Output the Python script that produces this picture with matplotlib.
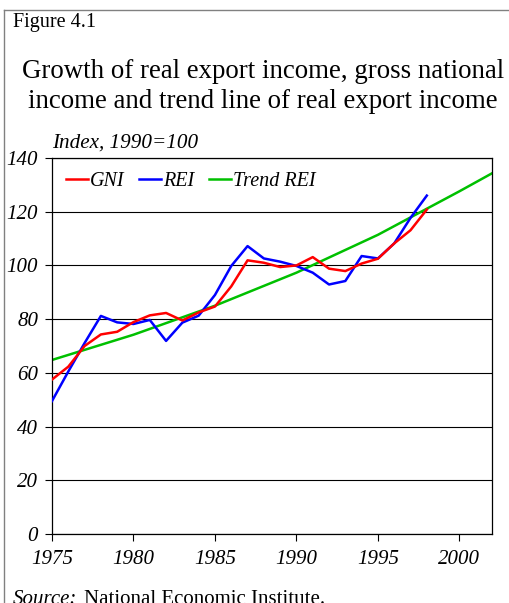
import matplotlib
matplotlib.use("Agg")
import matplotlib.pyplot as plt
from matplotlib.lines import Line2D

# data
years = list(range(1975, 1999))
gni = [57.5, 62.3, 70.0, 74.3, 75.3, 78.9, 81.4, 82.3, 79.5, 82.5, 84.7, 92.2,
       101.9, 101.0, 99.4, 100.0, 103.1, 98.8, 97.9, 100.7, 102.5, 108.2, 113.1, 120.8]
rei = [49.5, 60.5, 71.1, 81.2, 78.8, 78.2, 79.7, 71.9, 78.7, 81.3, 89.0, 99.8,
       107.2, 102.6, 101.4, 99.8, 97.3, 92.9, 94.2, 103.5, 102.6, 108.2, 117.7, 126.0]
trend_years = [1975, 1980, 1985, 1990, 1995, 2000, 2002]
trend_rei = [64.8, 74.2, 85.0, 97.3, 111.4, 127.6, 134.3]
xticks = [1975, 1980, 1985, 1990, 1995, 2000]
yticks = [0, 20, 40, 60, 80, 100, 120, 140]

plt.rcParams['font.family'] = ['Liberation Serif', 'DejaVu Serif']

fig = plt.figure(figsize=(5.09, 6.03), dpi=100)
W, H = 509, 603
ax = fig.add_axes([52 / W, 1 - 534 / H, (492 - 52) / W, (534 - 158) / H])

ax.plot(years, gni, color='#ff0000', lw=1.8, label='GNI', zorder=4)
ax.plot(years, rei, color='#0000ff', lw=1.8, label='REI', zorder=3)
ax.plot(trend_years, trend_rei, color='#00c000', lw=1.8, label='Trend REI', zorder=2)

ax.set_xlim(1975, 2002)
ax.set_ylim(0, 140)
ax.set_xticks(xticks)
ax.set_yticks(yticks)
ax.set_xticklabels([str(v) for v in xticks], fontsize=15, style='italic')
ax.set_yticklabels([str(v) for v in yticks], fontsize=15, style='italic')
ax.tick_params(direction='out', length=5, width=0.8, color='black')
ax.tick_params(axis='y', pad=5)
ax.tick_params(axis='x', pad=6.5)
ax.grid(axis='y', color='black', lw=0.8)
ax.set_axisbelow(True)
for s in ax.spines.values():
    s.set_linewidth(0.9)

leg = ax.legend(loc='upper left', ncol=3, frameon=False,
                prop={'style': 'italic', 'size': 14.5}, handlelength=1.1,
                handletextpad=0.1, columnspacing=0.7,
                bbox_to_anchor=(0.0, 1.0), borderaxespad=0.3)

fig.text(13 / W, 1 - 23 / H, 'Figure 4.1', fontsize=14.5, va='center', ha='left')
fig.text(263 / W, 1 - 72 / H, 'Growth of real export income, gross national',
         fontsize=19.4, ha='center', va='center')
fig.text(263 / W, 1 - 101 / H, 'income and trend line of real export income',
         fontsize=19.4, ha='center', va='center')
fig.text(52 / W, 1 - 143 / H, 'Index, 1990=100', fontsize=15.2, style='italic',
         va='center', ha='left')
fig.text(13 / W, 1 - 599 / H, 'Source:', fontsize=15, style='italic', va='center')
fig.text(84 / W, 1 - 599 / H, 'National Economic Institute.', fontsize=15, va='center')

# outer frame (top and left only visible)
fig.add_artist(Line2D([4 / W, 1], [1 - 10 / H, 1 - 10 / H], transform=fig.transFigure,
                      color='#808080', lw=1))
fig.add_artist(Line2D([4 / W, 4 / W], [0, 1 - 10 / H], transform=fig.transFigure,
                      color='#808080', lw=1))

fig.savefig('out.png', dpi=100)
